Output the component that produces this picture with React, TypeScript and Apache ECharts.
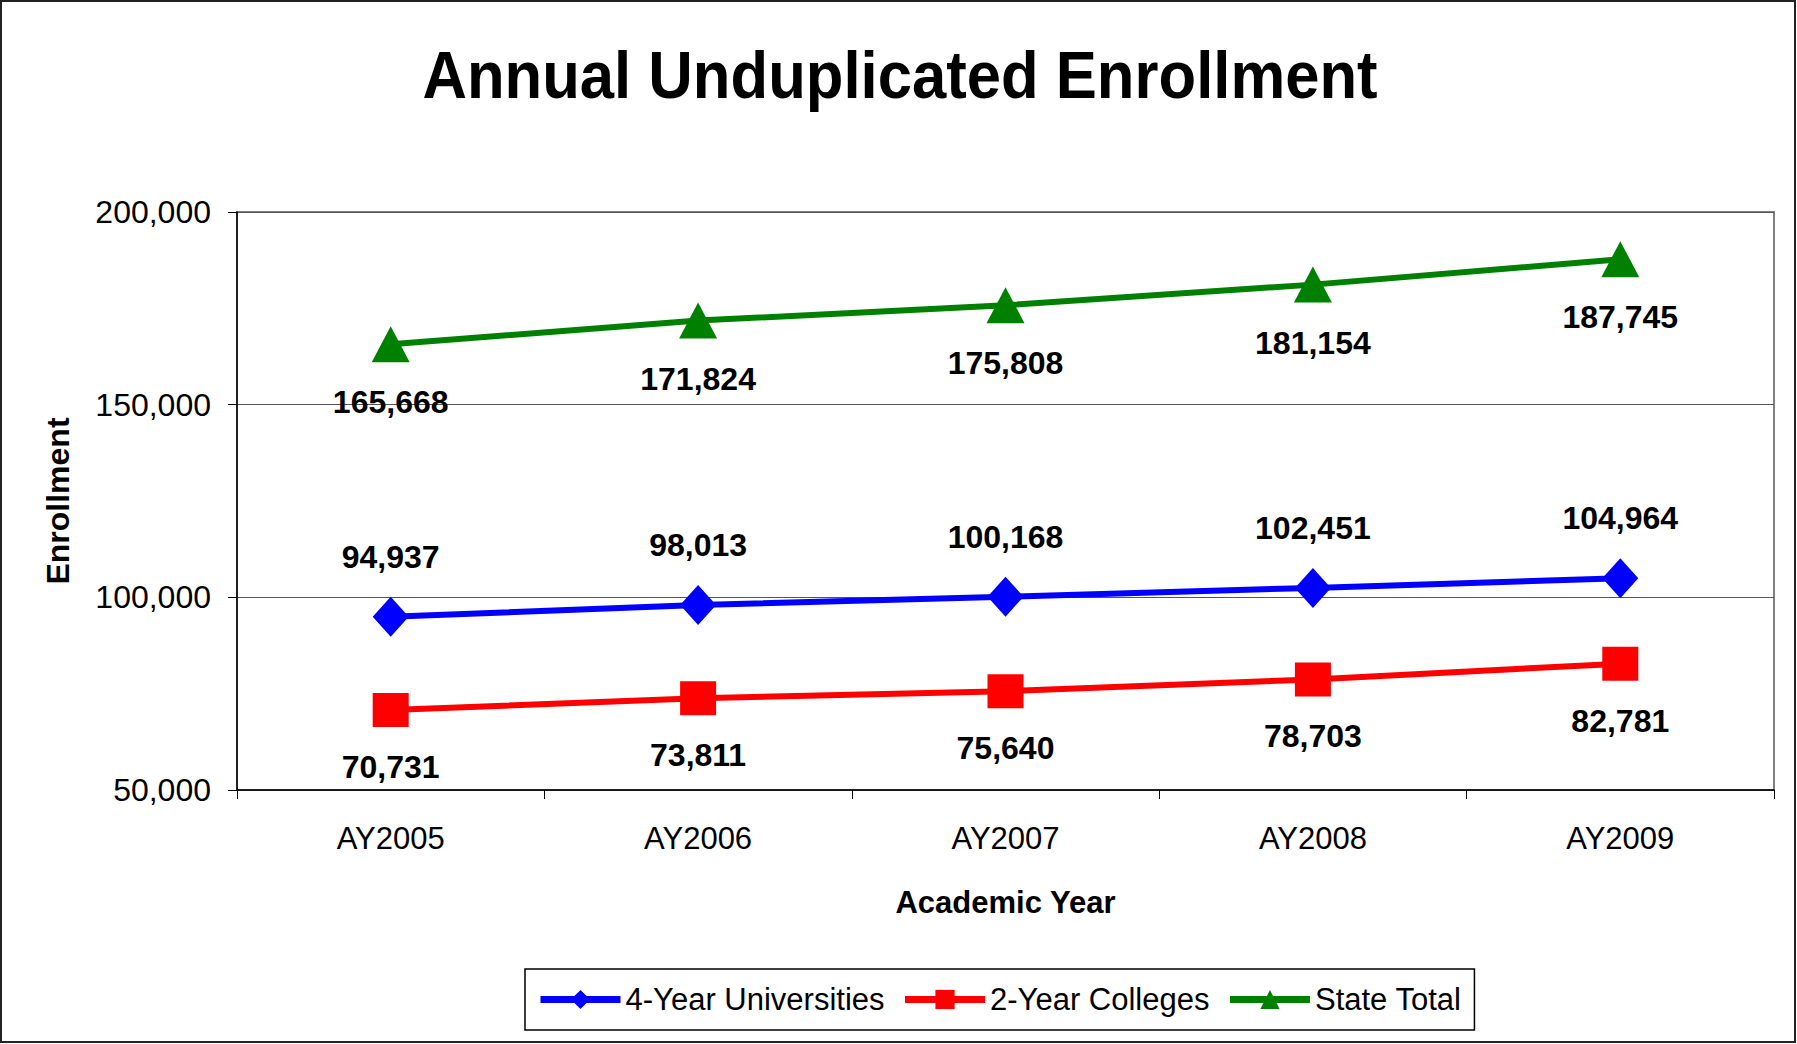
import React, { useEffect, useRef } from "react";
import * as echarts from "echarts";

const categories = ["AY2005", "AY2006", "AY2007", "AY2008", "AY2009"];
const universities4 = [94937, 98013, 100168, 102451, 104964];
const colleges2 = [70731, 73811, 75640, 78703, 82781];
const stateTotal = [165668, 171824, 175808, 181154, 187745];
const yTicks = { min: 50000, max: 200000, interval: 50000 };

const FONT = "'Liberation Sans', Arial, sans-serif";
const fmt = (v: number) => v.toLocaleString("en-US");

export default function App() {
  const ref = useRef<HTMLDivElement>(null);
  useEffect(() => {
    if (!ref.current) return;
    const chart = echarts.init(ref.current, null, { renderer: "svg" });
    const labelBase = {
      show: true,
      fontFamily: FONT,
      fontWeight: "bold" as const,
      fontSize: 32,
      color: "#000",
      formatter: (p: any) => fmt(p.value),
    };
    chart.setOption({
      animation: false,
      backgroundColor: "#fff",
      textStyle: { fontFamily: FONT },
      graphic: [
        {
          type: "rect",
          shape: { x: 1, y: 1, width: 1794, height: 1041 },
          style: { fill: "none", stroke: "#222", lineWidth: 2 },
          silent: true,
        },
        {
          type: "text",
          x: 900,
          y: 75,
          scaleX: 0.92,
          style: {
            text: "Annual Unduplicated Enrollment",
            textAlign: "center",
            textVerticalAlign: "middle",
            fontFamily: FONT,
            fontWeight: "bold",
            fontSize: 67,
            fill: "#000",
          },
        },
      ],
      grid: {
        left: 237,
        right: 23,
        top: 212,
        bottom: 254,
        show: true,
        borderColor: "#808080",
        borderWidth: 2,
        backgroundColor: "#fff",
      },
      legend: {
        left: 525,
        top: 969,
        padding: [15, 13, 15, 12],
        borderColor: "#000",
        borderWidth: 1.5,
        itemGap: 17,
        itemWidth: 80,
        itemHeight: 24,
        lineStyle: { width: 7 },
        textStyle: { fontFamily: FONT, fontSize: 31, color: "#000" },
        data: ["4-Year Universities", "2-Year Colleges", "State Total"],
      },
      xAxis: {
        type: "category",
        data: categories,
        boundaryGap: true,
        axisLine: { lineStyle: { color: "#000", width: 1.5 } },
        axisTick: { show: true, length: 9, inside: false, lineStyle: { color: "#000" } },
        axisLabel: { fontFamily: FONT, fontSize: 31, color: "#000", margin: 33 },
        name: "Academic Year",
        nameLocation: "middle",
        nameGap: 97,
        nameTextStyle: { fontFamily: FONT, fontSize: 31, fontWeight: "bold", color: "#000" },
        splitLine: { show: false },
      },
      yAxis: {
        type: "value",
        min: yTicks.min,
        max: yTicks.max,
        interval: yTicks.interval,
        axisLine: { show: true, lineStyle: { color: "#000", width: 1.5 } },
        axisTick: { show: true, length: 9, lineStyle: { color: "#000" } },
        axisLabel: {
          fontFamily: FONT,
          fontSize: 32,
          color: "#000",
          margin: 26,
          verticalAlign: "middle",
          padding: [0, 0, 4, 0],
          formatter: (v: number) => fmt(v),
        },
        splitLine: { show: true, lineStyle: { color: "#555", width: 1 } },
        name: "Enrollment",
        nameLocation: "middle",
        nameGap: 163,
        nameTextStyle: { fontFamily: FONT, fontSize: 32, fontWeight: "bold", color: "#000" },
      },
      series: [
        {
          name: "4-Year Universities",
          type: "line",
          data: universities4,
          color: "#0000FF",
          symbol: "diamond",
          symbolSize: [36, 40],
          lineStyle: { width: 6, color: "#0000FF" },
          itemStyle: { color: "#0000FF" },
          label: { ...labelBase, position: "top", distance: 24 },
          z: 3,
        },
        {
          name: "2-Year Colleges",
          type: "line",
          data: colleges2,
          color: "#FF0000",
          symbol: "rect",
          symbolSize: [36, 34],
          lineStyle: { width: 6, color: "#FF0000" },
          itemStyle: { color: "#FF0000" },
          label: { ...labelBase, position: "bottom", distance: 24 },
          z: 3,
        },
        {
          name: "State Total",
          type: "line",
          data: stateTotal,
          color: "#008000",
          symbol: "triangle",
          symbolSize: [38, 36],
          lineStyle: { width: 6, color: "#008000" },
          itemStyle: { color: "#008000" },
          label: { ...labelBase, position: "bottom", distance: 24 },
          z: 3,
        },
      ],
    });
    return () => chart.dispose();
  }, []);
  return (
    <div
      ref={ref}
      style={{ position: "fixed", left: 0, top: 0, width: 1797, height: 1044, background: "#fff" }}
    />
  );
}
